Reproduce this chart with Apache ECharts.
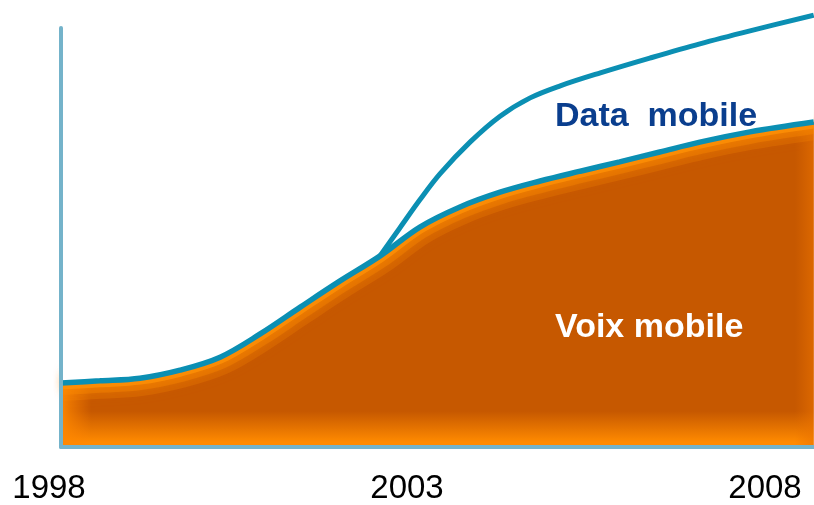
<!DOCTYPE html>
<html>
<head>
<meta charset="utf-8">
<script src="https://cdn.jsdelivr.net/npm/echarts@6/dist/echarts.min.js"></script>
<style>
html,body{margin:0;padding:0;background:#fff;}
#main{width:814px;height:505px;}
</style>
</head>
<body>
<div id="main"></div>
<script>
// Years shown on the axis
const tickYears = [1998, 2003, 2008];
// Voix mobile curve: [year, value]
const voixYears  = [1998.17, 1998.71, 1999.27, 1999.83, 2000.39, 2000.95, 2001.51, 2002.06, 2002.62, 2003.18, 2003.74, 2004.30, 2004.86, 2005.42, 2005.97, 2006.53, 2007.09, 2007.79, 2008.68];
const voixValues = [14.3, 14.8, 15.4, 17.2, 20.1, 25.3, 31.3, 37.1, 42.7, 49.2, 53.7, 57.0, 59.5, 61.7, 63.8, 66.0, 68.2, 70.5, 72.7];
// Data mobile curve (total, starting where it leaves the voice curve)
const dataYears  = [2002.62, 2002.90, 2003.18, 2003.46, 2003.88, 2004.30, 2004.72, 2005.14, 2005.70, 2006.39, 2007.09, 2007.79, 2008.68];
const dataValues = [42.7, 49.0, 55.3, 61.1, 68.2, 74.0, 78.1, 80.8, 83.7, 87.0, 90.2, 93.1, 96.6];
const labelVoix = 'Voix mobile';
const labelData = 'Data  mobile';

const voix = voixYears.map((y, i) => [y, voixValues[i]]);
const data = dataYears.map((y, i) => [y, dataValues[i]]);

const chart = echarts.init(document.getElementById('main'), null, {renderer: 'canvas'});
const blue = '#0B8FB3';
const axisBlue = '#74B3CA';
const dark = '#C65800';
const light = '#FF8A00';

const hidden = {show: false};
const curve = {type: 'line', xAxisIndex: 0, yAxisIndex: 0, smooth: 0.35, symbol: 'none', silent: true};
const option = {
  animation: false,
  backgroundColor: '#fff',
  grid: [
    {left: 61, right: 0, top: 0, bottom: 58},
    {left: 61, right: 0, top: 28, bottom: 58, z: 10},
    {left: 49, right: 49, top: 28, bottom: 58}
  ],
  xAxis: [
    {gridIndex: 0, type: 'value', min: 1998.168, max: 2008.684, axisLine: hidden, axisTick: hidden, axisLabel: hidden, splitLine: hidden},
    {gridIndex: 1, type: 'value', min: 0, max: 1, z: 10,
      axisLine: {show: true, onZero: false, lineStyle: {color: axisBlue, width: 4}},
      axisTick: hidden, axisLabel: hidden, splitLine: hidden},
    {gridIndex: 2, type: 'value', min: 1998, max: 2008, interval: 5,
      axisLine: hidden, axisTick: hidden, splitLine: hidden,
      axisLabel: {show: true, color: '#000', fontSize: 33, fontFamily: 'Liberation Sans, Arial, sans-serif', margin: 28,
        formatter: v => tickYears.indexOf(v) >= 0 ? String(v) : ''}}
  ],
  yAxis: [
    {gridIndex: 0, type: 'value', min: 0, max: 100, axisLine: hidden, axisTick: hidden, axisLabel: hidden, splitLine: hidden},
    {gridIndex: 1, type: 'value', min: 0, max: 1, z: 10,
      axisLine: {show: true, onZero: false, lineStyle: {color: axisBlue, width: 4}},
      axisTick: hidden, axisLabel: hidden, splitLine: hidden},
    {gridIndex: 2, type: 'value', min: 0, max: 1, show: false}
  ],
  series: [
    // main orange fill with bottom bevel
    Object.assign({}, curve, {data: voix, z: 1, lineStyle: {width: 0},
      areaStyle: {opacity: 1, color: new echarts.graphic.LinearGradient(0, 0, 0, 1, [
        {offset: 0, color: dark}, {offset: 0.89, color: dark}, {offset: 0.985, color: light}, {offset: 1, color: light}])}}),
    // left / right bevel
    Object.assign({}, curve, {data: voix, z: 2, lineStyle: {width: 0},
      areaStyle: {opacity: 1, color: new echarts.graphic.LinearGradient(0, 0, 1, 0, [
        {offset: 0, color: 'rgba(255,135,0,0.95)'}, {offset: 0.012, color: 'rgba(255,135,0,0.6)'}, {offset: 0.04, color: 'rgba(255,130,0,0)'},
        {offset: 0.975, color: 'rgba(230,110,0,0)'}, {offset: 1, color: 'rgba(235,115,0,0.6)'}])}}),
    // top glow under the curve (layered soft bands)
    Object.assign({}, curve, {data: voix, z: 3,
      lineStyle: {width: 36, color: 'rgba(255,140,0,0.22)', shadowBlur: 12, shadowColor: 'rgba(255,140,0,0.25)'}}),
    Object.assign({}, curve, {data: voix, z: 3,
      lineStyle: {width: 24, color: 'rgba(255,140,0,0.35)', shadowBlur: 10, shadowColor: 'rgba(255,140,0,0.35)'}}),
    Object.assign({}, curve, {data: voix, z: 3,
      lineStyle: {width: 13, color: 'rgba(255,145,5,0.75)', shadowBlur: 8, shadowColor: 'rgba(255,140,0,0.5)'}}),
    // white mask above the voice curve
    Object.assign({}, curve, {data: voix, z: 4, lineStyle: {width: 0},
      areaStyle: {origin: 'end', opacity: 1, color: '#fff'}}),
    // Data mobile line
    Object.assign({}, curve, {name: labelData, data: data, z: 6, lineStyle: {width: 5, color: blue}}),
    // Voix mobile line
    Object.assign({}, curve, {name: labelVoix, data: voix, z: 6, lineStyle: {width: 5.5, color: blue}})
  ],
  graphic: [
    {type: 'text', left: 555, top: 100, z: 20, style: {text: labelData, fill: '#0A3E8E', font: 'bold 34px "Liberation Sans", Arial, sans-serif'}},
    {type: 'text', left: 555, top: 311, z: 20, style: {text: labelVoix, fill: '#ffffff', font: 'bold 34px "Liberation Sans", Arial, sans-serif'}}
  ]
};
chart.setOption(option);
</script>
</body>
</html>
